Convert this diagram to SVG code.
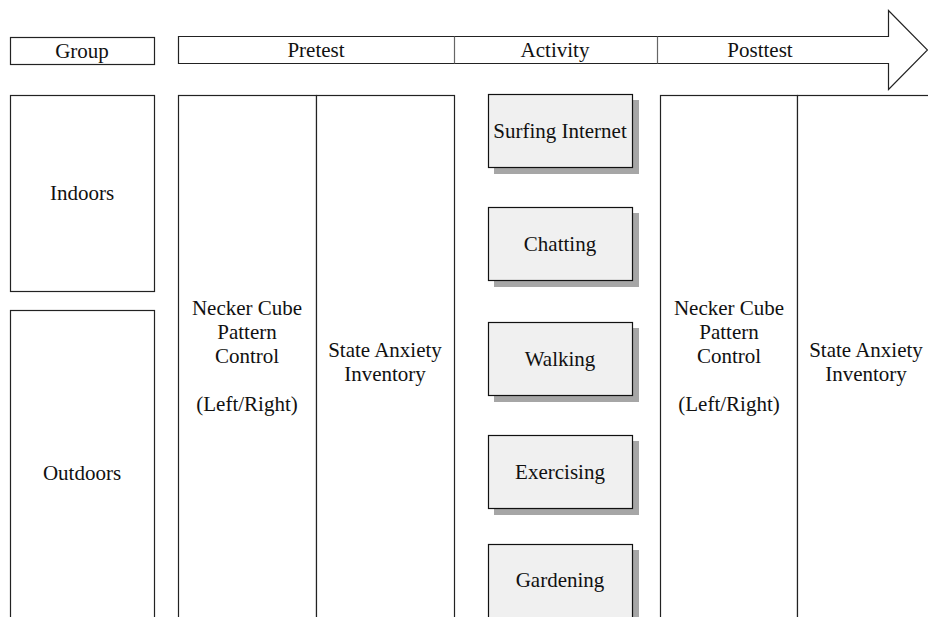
<svg xmlns="http://www.w3.org/2000/svg" width="928" height="617" viewBox="0 0 928 617">
<style>
text{font-size:21px;fill:#111;text-anchor:middle}
.b{fill:#fff;stroke:#222;stroke-width:1.2}
.a{fill:#f0f0f0;stroke:#111;stroke-width:1.2}
.s{fill:#a6a6a6}
.d{stroke:#666;stroke-width:1.2}
</style>
<rect width="928" height="617" fill="#fff"/>
<g font-family="'Liberation Serif', 'Times New Roman', Times, serif">
<g id="group-header"><rect class="b" x="10.5" y="37.5" width="144" height="27"/><text x="82" y="58">Group</text></g>
<g id="timeline">
<path class="b" d="M178.5 36.5 H888.5 V10.5 L927.5 50 L888.5 89.5 V63.5 H178.5 Z"/>
<line class="d" x1="454.5" y1="36.5" x2="454.5" y2="63.5"/>
<line class="d" x1="657.5" y1="36.5" x2="657.5" y2="63.5"/>
<text x="316" y="57">Pretest</text><text x="555" y="57">Activity</text><text x="760" y="57">Posttest</text>
</g>
<g id="indoors"><rect class="b" x="10.5" y="95.5" width="144" height="196"/><text x="82" y="200">Indoors</text></g>
<g id="outdoors"><rect class="b" x="10.5" y="310.5" width="144" height="340"/><text x="82" y="480">Outdoors</text></g>
<g id="pre-necker"><rect class="b" x="178.5" y="95.5" width="138" height="560"/>
<text x="247" y="315">Necker Cube</text><text x="247" y="339">Pattern</text><text x="247" y="363">Control</text><text x="247" y="411">(Left/Right)</text></g>
<g id="pre-stai"><rect class="b" x="316.5" y="95.5" width="138" height="560"/>
<text x="385" y="357">State Anxiety</text><text x="385" y="381">Inventory</text></g>
<g id="post-necker"><rect class="b" x="660.5" y="95.5" width="137" height="560"/>
<text x="729" y="315">Necker Cube</text><text x="729" y="339">Pattern</text><text x="729" y="363">Control</text><text x="729" y="411">(Left/Right)</text></g>
<g id="post-stai"><rect class="b" x="797.5" y="95.5" width="138" height="560"/>
<text x="866" y="357">State Anxiety</text><text x="866" y="381">Inventory</text></g>
<g id="surfing"><rect class="s" x="494" y="100" width="145" height="74"/><rect class="a" x="488.5" y="94.5" width="144" height="73"/><text x="560" y="138">Surfing Internet</text></g>
<g id="chatting"><rect class="s" x="494" y="213" width="145" height="74"/><rect class="a" x="488.5" y="207.5" width="144" height="73"/><text x="560" y="251">Chatting</text></g>
<g id="walking"><rect class="s" x="494" y="328" width="145" height="74"/><rect class="a" x="488.5" y="322.5" width="144" height="73"/><text x="560" y="366">Walking</text></g>
<g id="exercising"><rect class="s" x="494" y="441" width="145" height="74"/><rect class="a" x="488.5" y="435.5" width="144" height="73"/><text x="560" y="479">Exercising</text></g>
<g id="gardening"><rect class="s" x="494" y="550" width="145" height="74"/><rect class="a" x="488.5" y="544.5" width="144" height="100"/><text x="560" y="587">Gardening</text></g>
</g>
<g id="connectors"></g>
</svg>
